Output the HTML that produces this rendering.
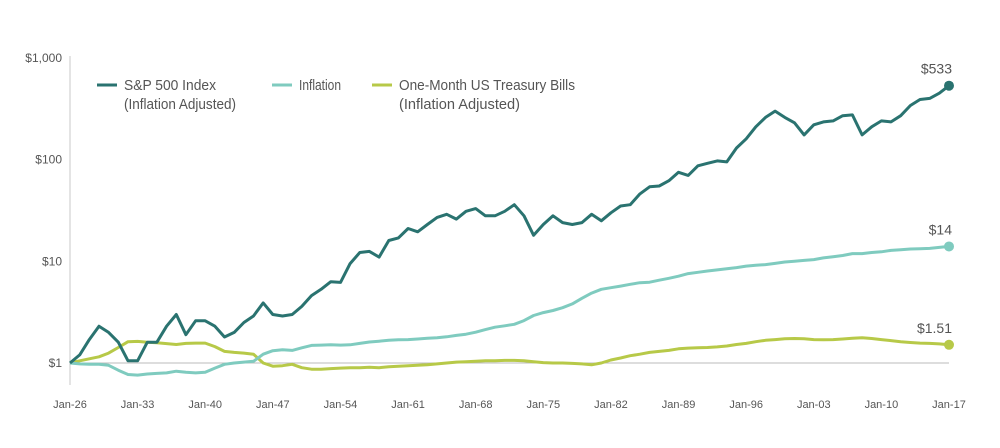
<!DOCTYPE html>
<html><head><meta charset="utf-8"><style>
body{margin:0;background:#fff;width:1000px;height:443px;overflow:hidden;font-family:"Liberation Sans Narrow","Liberation Sans",sans-serif}
svg text{fill:#555}
</style></head><body>
<svg id="chart" width="1000" height="443" xmlns="http://www.w3.org/2000/svg">
<g id="axes"></g>
<g id="series"></g>
<g id="legend">
<line x1="97" y1="85" x2="117" y2="85" stroke="#2a7370" stroke-width="3"/>
<text x="124" y="90" font-size="15" textLength="92" lengthAdjust="spacingAndGlyphs">S&amp;P 500 Index</text>
<text x="124" y="109" font-size="15" textLength="112" lengthAdjust="spacingAndGlyphs">(Inflation Adjusted)</text>
<line x1="272" y1="85" x2="292" y2="85" stroke="#7fcbbf" stroke-width="3"/>
<text x="299" y="90" font-size="15" textLength="42" lengthAdjust="spacingAndGlyphs">Inflation</text>
<line x1="372" y1="85" x2="392" y2="85" stroke="#b7c948" stroke-width="3"/>
<text x="399" y="90" font-size="15" textLength="176" lengthAdjust="spacingAndGlyphs">One-Month US Treasury Bills</text>
<text x="399" y="109" font-size="15" textLength="121" lengthAdjust="spacingAndGlyphs">(Inflation Adjusted)</text>
</g>
</svg>
<script>
const startYear = 1926;
const spValues = [1,1.2,1.7,2.3,2.0,1.6,1.05,1.05,1.6,1.6,2.3,3.0,1.9,2.6,2.6,2.3,1.8,2.0,2.5,2.9,3.9,3.0,2.9,3.0,3.6,4.6,5.3,6.3,6.2,9.5,12.2,12.5,11,16,17,21,19.5,23,27,29,26,31,33,28,28,31,36,28,18,23,28,24,23,24,29,25,30,35,36,46,54,55,62,75,70,87,92,97,95,130,160,210,260,300,260,230,175,220,235,240,270,275,175,210,240,235,270,340,390,400,450,533];
const inflValues = [1,0.98,0.97,0.97,0.95,0.85,0.77,0.76,0.78,0.79,0.80,0.83,0.81,0.80,0.81,0.89,0.97,1.0,1.02,1.04,1.22,1.32,1.35,1.33,1.41,1.49,1.50,1.51,1.50,1.51,1.56,1.61,1.64,1.67,1.69,1.70,1.72,1.75,1.77,1.81,1.87,1.92,2.01,2.13,2.25,2.32,2.40,2.61,2.93,3.13,3.28,3.50,3.81,4.33,4.87,5.30,5.50,5.71,5.94,6.16,6.23,6.52,6.81,7.14,7.57,7.80,8.03,8.24,8.46,8.68,8.97,9.13,9.28,9.53,9.85,10.0,10.2,10.4,10.8,11.1,11.4,11.9,11.9,12.2,12.4,12.8,13.0,13.2,13.3,13.4,13.7,14.0];
const tbillValues = [1,1.05,1.10,1.15,1.25,1.42,1.62,1.63,1.60,1.58,1.55,1.52,1.56,1.57,1.57,1.45,1.30,1.27,1.25,1.22,1.0,0.93,0.94,0.97,0.9,0.87,0.87,0.88,0.89,0.9,0.9,0.91,0.9,0.92,0.93,0.94,0.95,0.96,0.98,1.0,1.02,1.03,1.04,1.05,1.05,1.06,1.06,1.05,1.03,1.01,1.0,1.0,0.99,0.98,0.96,1.0,1.07,1.12,1.18,1.22,1.27,1.30,1.33,1.38,1.40,1.41,1.42,1.44,1.47,1.52,1.56,1.62,1.67,1.70,1.73,1.74,1.73,1.70,1.69,1.70,1.72,1.75,1.77,1.74,1.70,1.66,1.62,1.59,1.57,1.56,1.54,1.51];
const endLabels = ["$533","$14","$1.51"];
const yTicks = [1,10,100,1000];
const yTickLabels = ["$1","$10","$100","$1,000"];
const xTickYears = [1926,1933,1940,1947,1954,1961,1968,1975,1982,1989,1996,2003,2010,2017];
const xTickLabels = ["Jan-26","Jan-33","Jan-40","Jan-47","Jan-54","Jan-61","Jan-68","Jan-75","Jan-82","Jan-89","Jan-96","Jan-03","Jan-10","Jan-17"];

const NS="http://www.w3.org/2000/svg";
const X0=70,X1=949,nYears=spValues.length-1;
function xs(year){return X0+(year-startYear)*(X1-X0)/nYears;}
function ys(v){return 363-Math.log10(v)*101.7;}
function mk(tag,attrs,parent){const e=document.createElementNS(NS,tag);for(const k in attrs)e.setAttribute(k,attrs[k]);parent.appendChild(e);return e;}
const axes=document.getElementById('axes'),series=document.getElementById('series');

let yAxis=mk('line',{x1:X0,y1:56,x2:X0,y2:385,stroke:'#c8c8c8','stroke-width':1},axes);


let base=mk('line',{x1:X0,y1:ys(1),x2:X1,y2:ys(1),stroke:'#bbb','stroke-width':1},axes);


yTicks.forEach((v,i)=>{
  const t=mk('text',{x:62,y:ys(v)+4,'text-anchor':'end','font-size':12},axes);
  t.textContent=yTickLabels[i];
  
  
});
xTickYears.forEach((yr,i)=>{
  const t=mk('text',{x:xs(yr),y:408,'text-anchor':'middle','font-size':11},axes);
  t.textContent=xTickLabels[i];
  
  
});
const defs=[[tbillValues,'#b7c948','tbills-line'],[inflValues,'#7fcbbf','inflation-line'],[spValues,'#2a7370','sp500-line']];
const labelIdx={'sp500-line':0,'inflation-line':1,'tbills-line':2};
defs.forEach(([vals,col,name])=>{
  const d=vals.map((v,i)=>(i?'L':'M')+xs(startYear+i).toFixed(1)+','+ys(v).toFixed(1)).join('');
  const p=mk('path',{d:d,fill:'none',stroke:col,'stroke-width':3,'stroke-linejoin':'round'},series);
  
  
  const last=vals[vals.length-1],lx=xs(startYear+nYears),ly=ys(last);
  const c=mk('circle',{cx:lx,cy:ly,r:5,fill:col},series);
  
  
  const t=mk('text',{x:lx+3,y:ly-12,'text-anchor':'end','font-size':14},series);
  t.textContent=endLabels[labelIdx[name]];
  
  
});
</script>
</body></html>
